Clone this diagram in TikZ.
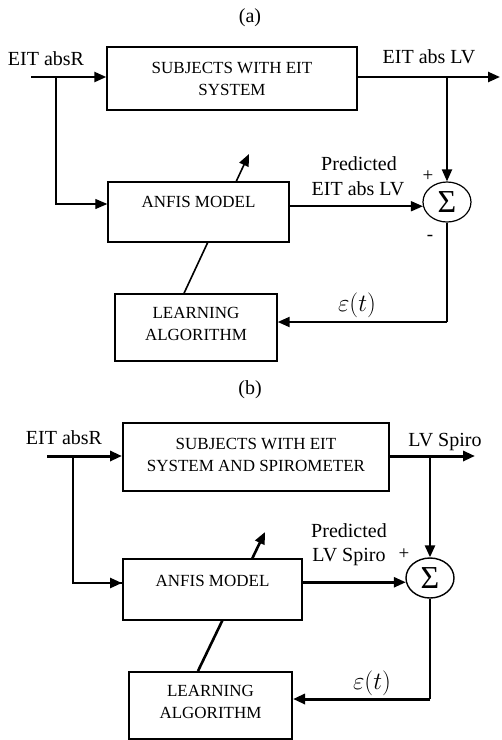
\documentclass[tikz,border=0pt]{standalone}
\usepackage{fontspec}
\setmainfont{Liberation Serif}
\usetikzlibrary{arrows.meta,calc,shapes.geometric}
\pgfdeclarelayer{bg}
\pgfsetlayers{bg,main}
\tikzset{
  boxa/.style={draw, fill=white, line width=1.4pt, inner sep=0pt, align=center,
    font=\fontsize{17}{22}\selectfont},
  boxb/.style={boxa, line width=2pt},
  boxtxt/.style={inner sep=0pt, font=\fontsize{17}{22}\selectfont, align=center},
  lbl/.style={inner sep=0pt, font=\fontsize{20}{24}\selectfont},
  sgn/.style={inner sep=0pt, font=\fontsize{19}{20}\selectfont},
  sig/.style={draw, ellipse, fill=white, minimum width=48pt, minimum height=40pt,
    inner sep=0pt, font=\fontsize{32}{34}\selectfont},
  arr/.style={-{Triangle[length=12pt,width=10pt]}},
}
\begin{document}
\begin{tikzpicture}[x=1pt,y=-1pt]
\useasboundingbox (0,0) rectangle (502,740);

% ---------------- (a) ----------------
\node[lbl] (ta) at (250,18) {(a)};
\node[boxa, minimum width=250pt, minimum height=63pt] (subjA) at (232,78.5) {SUBJECTS WITH EIT\\SYSTEM};
\node[boxa, minimum width=181pt, minimum height=60pt] (anfisA) at (198.5,212) {};
\node[boxtxt] (anfisAt) at (198.5,202) {ANFIS MODEL};
\node[boxa, minimum width=162pt, minimum height=67pt] (learnA) at (196,327.5) {};
\node[boxtxt] (learnAt) at (196,324) {LEARNING\\ALGORITHM};
\node[sig, line width=1.2pt] (sigA) at (447,202) {Σ};

\node[lbl, anchor=base] (inAl) at (46,65) {EIT absR};
\node[lbl, anchor=base] (outAl) at (429,63) {EIT abs LV};
\node[lbl, anchor=base] (predA1) at (359,170) {Predicted};
\node[lbl, anchor=base] (predA2) at (358,195) {EIT abs LV};
\node[sgn] (plusA) at (428,176) {+};
\node[sgn] (minusA) at (430,238) {-};
\node[inner sep=0pt, font=\fontsize{24}{28}\selectfont] (epsA) at (357,305) {$\varepsilon(t)$};

\coordinate (inA) at (31,77);
\coordinate (brA) at (56,77);
\coordinate (outA) at (500,77);
\coordinate (fbA) at (447,322);
\coordinate (diagAtip) at (249,154);

\draw[line width=2.4pt, arr] (inA) -- (inA -| subjA.west);
\draw[line width=1.2pt, arr] (brA) |- ($(anfisA.west)+(0,-8)$);
\draw[line width=2.4pt, arr] (outA -| subjA.east) -- (outA);
\draw[line width=2pt, arr] (sigA.north |- outA) -- (sigA.north);
\draw[line width=1.7pt, arr] (anfisA.east |- sigA.190) -- (sigA.190);
\draw[line width=1.2pt] (sigA.south) -- (fbA);
\draw[line width=2.2pt, arr] (fbA) -- (fbA -| learnA.east);
\begin{pgfonlayer}{bg}
\draw[line width=1.6pt, arr] ($(learnA.north)+(-12,0)$) -- (diagAtip);
\end{pgfonlayer}

% ---------------- (b) ----------------
\node[lbl] (tb) at (250,390) {(b)};
\node[boxb, minimum width=266pt, minimum height=68pt] (subjB) at (256,457) {};
\node[boxtxt] (subjBt) at (256,455) {SUBJECTS WITH EIT\\SYSTEM AND SPIROMETER};
\node[boxb, minimum width=179pt, minimum height=61pt] (anfisB) at (212.5,589.5) {};
\node[boxtxt] (anfisBt) at (212.5,581) {ANFIS MODEL};
\node[boxb, minimum width=163pt, minimum height=67pt] (learnB) at (210.5,705.5) {};
\node[boxtxt] (learnBt) at (210.5,701.5) {LEARNING\\ALGORITHM};
\node[sig, line width=1.4pt] (sigB) at (430,578) {Σ};

\node[lbl, anchor=base] (inBl) at (64,444) {EIT absR};
\node[lbl, anchor=base] (outBl) at (445,446) {LV Spiro};
\node[lbl, anchor=base] (predB1) at (349,537) {Predicted};
\node[lbl, anchor=base] (predB2) at (349,561) {LV Spiro};
\node[sgn] (plusB) at (404,554) {+};
\node[inner sep=0pt, font=\fontsize{24}{28}\selectfont] (epsB) at (372,683) {$\varepsilon(t)$};

\coordinate (inB) at (47,456);
\coordinate (brB) at (73,456);
\coordinate (outB) at (475,456);
\coordinate (fbB) at (430,699);
\coordinate (diagBtip) at (265,532);

\draw[line width=3pt, arr] (inB) -- (inB -| subjB.west);
\draw[line width=2pt] (brB) |- ($(anfisB.west)+(0,-6.5)$);
\draw[line width=2.6pt, arr] ($(anfisB.west)+(-45,-6.5)$) -- ($(anfisB.west)+(0,-6.5)$);
\draw[line width=3pt, arr] (outB -| subjB.east) -- (outB);
\draw[line width=2.6pt, arr] (sigB.north |- outB) -- (sigB.north);
\draw[line width=2.6pt, arr] (anfisB.east |- sigB.190) -- (sigB.190);
\draw[line width=1.8pt] (sigB.south) -- (fbB);
\draw[line width=3pt, arr] (fbB) -- (fbB -| learnB.east);
\begin{pgfonlayer}{bg}
\draw[line width=2.6pt, arr] ($(learnB.north)+(-12.5,0)$) -- (diagBtip);
\end{pgfonlayer}
\end{tikzpicture}
\end{document}
